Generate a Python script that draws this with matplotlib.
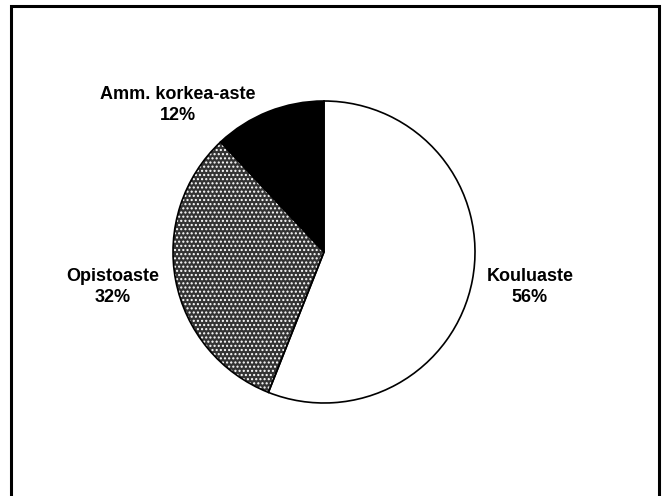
import matplotlib.pyplot as plt
from matplotlib.patches import Rectangle

# data
labels = ['Kouluaste', 'Opistoaste', 'Amm. korkea-aste']
shares = [56, 32, 12]
colors = ['white', '#333333', 'black']
hatches = [None, '....', None]
label_pos = [(530, 209), (113, 209), (178, 391)]   # text centre, y up

plt.rcParams['font.family'] = ['Liberation Sans', 'DejaVu Sans']

fig = plt.figure(figsize=(6.65, 4.96), dpi=100)
ax = fig.add_axes([0, 0, 1, 1])

# frame around the chart
ax.add_patch(Rectangle((11, -10), 648, 500, fill=False, lw=2.2, ec='black'))

# filled wedges (hatch drawn in white on the gray slice)
wedges, _ = ax.pie(shares, colors=colors, startangle=90, counterclock=False,
                   center=(324, 244), radius=151, frame=True,
                   wedgeprops=dict(linewidth=0))
for w, h in zip(wedges, hatches):
    if h:
        w.set_hatch(h)
        w.set_edgecolor('white')

# outlines on top
ax.pie(shares, colors=['none'] * 3, startangle=90, counterclock=False,
       center=(324, 244), radius=151, frame=True,
       wedgeprops=dict(linewidth=1.2, edgecolor='black'))

ax.set_xlim(0, 665)
ax.set_ylim(0, 496)
ax.set_aspect('equal')
ax.axis('off')

for lab, val, (x, y) in zip(labels, shares, label_pos):
    ax.text(x, y, '%s\n%d%%' % (lab, val), ha='center', va='center',
            fontsize=13, fontweight='bold', linespacing=1.25)

fig.savefig('out.png', dpi=100)
